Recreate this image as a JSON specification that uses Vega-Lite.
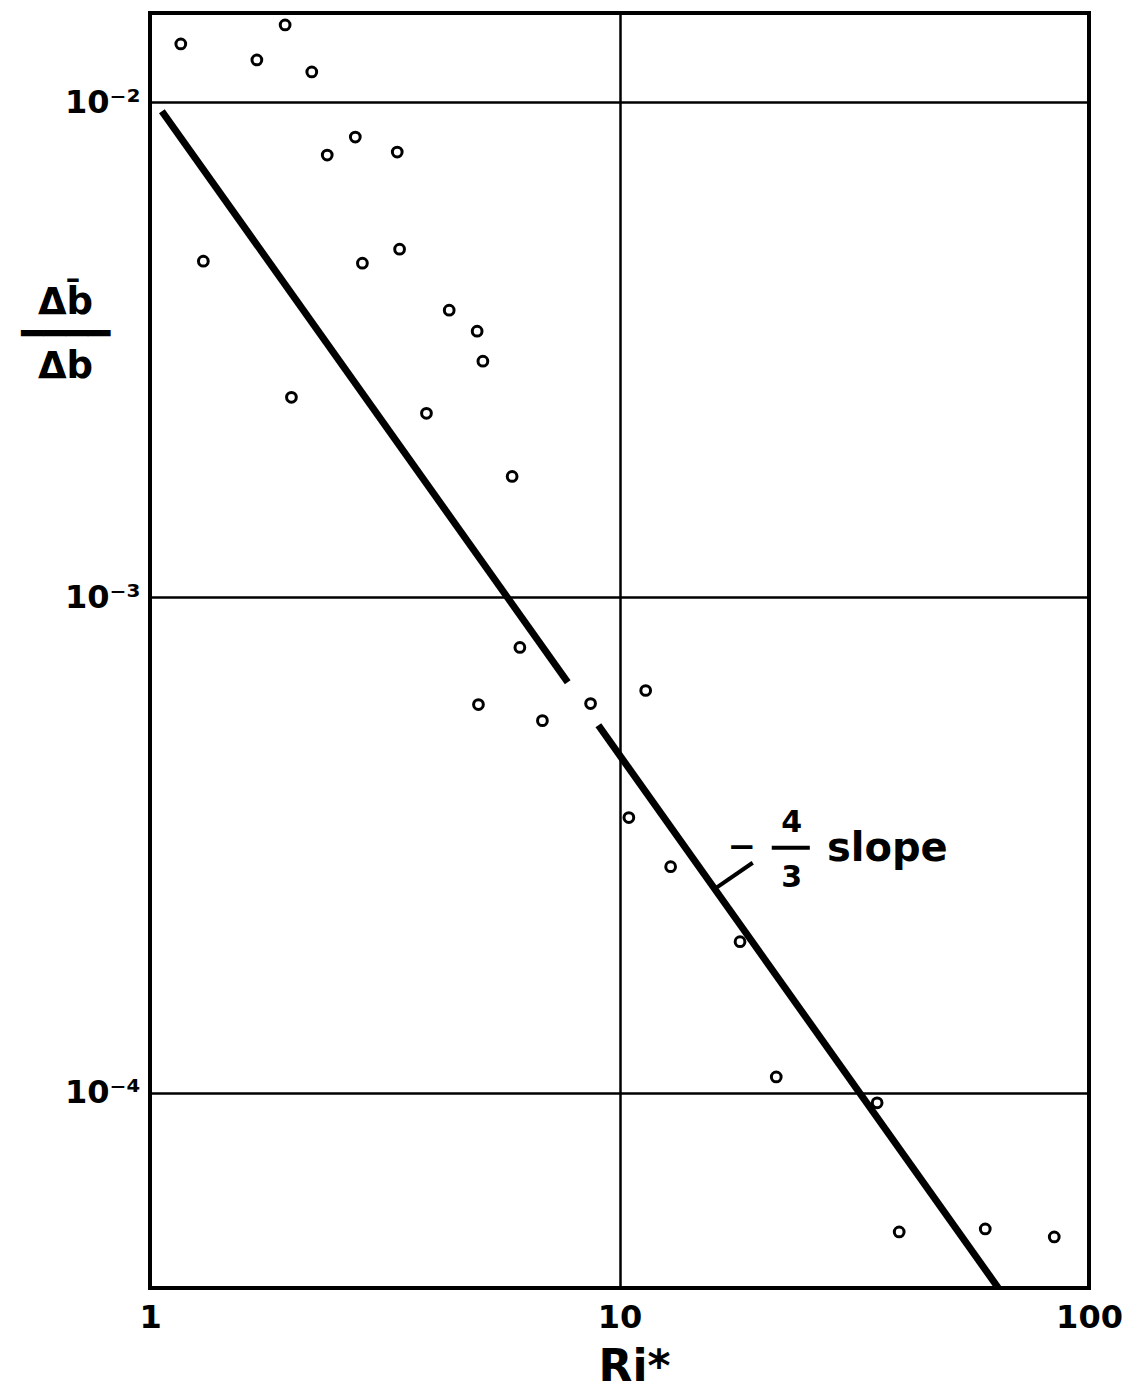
{
  "$schema": "https://vega.github.io/schema/vega-lite/v6.json",
  "width": 939,
  "height": 1275,
  "autosize": {"type": "none"},
  "padding": {"left": 150, "top": 13, "right": 55, "bottom": 105},
  "background": "white",
  "config": {
    "font": "DejaVu Sans",
    "view": {"stroke": "black", "strokeWidth": 4}
  },
  "datasets": {
    "obs": [
      {"ri": 1.163, "ratio": 0.01310},
      {"ri": 1.689, "ratio": 0.01216},
      {"ri": 1.940, "ratio": 0.01431},
      {"ri": 2.211, "ratio": 0.01150},
      {"ri": 1.299, "ratio": 0.004774},
      {"ri": 2.385, "ratio": 0.007815},
      {"ri": 2.737, "ratio": 0.00850},
      {"ri": 3.362, "ratio": 0.007925},
      {"ri": 2.834, "ratio": 0.004729},
      {"ri": 3.401, "ratio": 0.005047},
      {"ri": 2.001, "ratio": 0.002535},
      {"ri": 4.338, "ratio": 0.00380},
      {"ri": 4.975, "ratio": 0.003447},
      {"ri": 5.117, "ratio": 0.002998},
      {"ri": 3.880, "ratio": 0.002353},
      {"ri": 5.906, "ratio": 0.001755},
      {"ri": 6.135, "ratio": 0.0007925},
      {"ri": 5.007, "ratio": 0.0006078},
      {"ri": 6.852, "ratio": 0.0005641},
      {"ri": 8.677, "ratio": 0.0006107},
      {"ri": 11.37, "ratio": 0.0006489},
      {"ri": 10.47, "ratio": 0.0003594},
      {"ri": 12.85, "ratio": 0.0002861},
      {"ri": 18.06, "ratio": 0.0002019},
      {"ri": 21.57, "ratio": 0.0001077},
      {"ri": 35.38, "ratio": 0.00009546},
      {"ri": 39.42, "ratio": 0.00005238},
      {"ri": 60.12, "ratio": 0.00005312},
      {"ri": 84.33, "ratio": 0.00005117}
    ],
    "fit": [
      {"segment": "a", "ri": 1.06, "ratio": 0.009585},
      {"segment": "a", "ri": 7.757, "ratio": 0.0006744},
      {"segment": "b", "ri": 9.016, "ratio": 0.000552},
      {"segment": "b", "ri": 64.1, "ratio": 0.00004037}
    ]
  },
  "layer": [
    {
      "data": {"name": "obs"},
      "mark": {"type": "point", "shape": "circle", "filled": false, "stroke": "black", "strokeWidth": 3, "size": 95, "opacity": 1},
      "encoding": {
        "x": {
          "field": "ri",
          "type": "quantitative",
          "scale": {"type": "log", "domain": [1, 100], "nice": false},
          "axis": {
            "values": [1, 10, 100],
            "labelExpr": "datum.value < 5 ? '1' : datum.value < 50 ? '10' : '100'",
            "labelFontSize": 32,
            "labelFontWeight": "bold",
            "labelColor": "black",
            "labelPadding": 14,
            "labelFlush": false,
            "labelOverlap": false,
            "labelBound": false,
            "ticks": false,
            "domain": false,
            "grid": true,
            "gridColor": "black",
            "gridWidth": 2.5,
            "gridOpacity": 1,
            "title": "Ri*",
            "titleFontSize": 44,
            "titleFontWeight": "bold",
            "titleColor": "black",
            "titleAlign": "center",
            "titleBaseline": "alphabetic",
            "titleX": 484,
            "titleY": 92
          }
        },
        "y": {
          "field": "ratio",
          "type": "quantitative",
          "scale": {"type": "log", "domain": [0.00004037, 0.015128], "nice": false},
          "axis": {
            "values": [0.0001, 0.001, 0.01],
            "labelExpr": "datum.value < 0.0005 ? '10⁻⁴' : datum.value < 0.005 ? '10⁻³' : '10⁻²'",
            "labelFontSize": 32,
            "labelFontWeight": "bold",
            "labelColor": "black",
            "labelPadding": 10,
            "labelBaseline": "middle",
            "labelOverlap": false,
            "labelBound": false,
            "ticks": false,
            "domain": false,
            "grid": true,
            "gridColor": "black",
            "gridWidth": 2.5,
            "gridOpacity": 1,
            "title": ["Δb̄", "━━━━", "Δb"],
            "titleAngle": 0,
            "titleFontSize": 37,
            "titleFontWeight": "bold",
            "titleColor": "black",
            "titleAlign": "center",
            "titleBaseline": "middle",
            "titleLineHeight": 32,
            "titleX": -85,
            "titleY": 289
          }
        }
      }
    },
    {
      "data": {"name": "fit"},
      "mark": {"type": "line", "stroke": "black", "strokeWidth": 7, "strokeCap": "butt", "clip": true},
      "encoding": {
        "x": {"field": "ri", "type": "quantitative"},
        "y": {"field": "ratio", "type": "quantitative"},
        "detail": {"field": "segment"}
      }
    },
    {
      "data": {"values": [
        {"ri": 15.95, "ratio": 0.000258, "ri2": 19.22, "ratio2": 0.0002914},
        {"ri": 21.10, "ratio": 0.0003125, "ri2": 25.43, "ratio2": 0.0003125}
      ]},
      "mark": {"type": "rule", "stroke": "black", "strokeWidth": 4},
      "encoding": {
        "x": {"field": "ri", "type": "quantitative"},
        "y": {"field": "ratio", "type": "quantitative"},
        "x2": {"field": "ri2"},
        "y2": {"field": "ratio2"}
      }
    },
    {
      "data": {"values": [{"ri": 18.21, "ratio": 0.0003125, "label": "−"}]},
      "mark": {"type": "text", "fontSize": 34, "fontWeight": "bold", "color": "black", "align": "center", "baseline": "middle"},
      "encoding": {
        "x": {"field": "ri", "type": "quantitative"},
        "y": {"field": "ratio", "type": "quantitative"},
        "text": {"field": "label"}
      }
    },
    {
      "data": {"values": [
        {"ri": 23.28, "ratio": 0.0003512, "label": "4"},
        {"ri": 23.28, "ratio": 0.0002718, "label": "3"}
      ]},
      "mark": {"type": "text", "fontSize": 30, "fontWeight": "bold", "color": "black", "align": "center", "baseline": "middle"},
      "encoding": {
        "x": {"field": "ri", "type": "quantitative"},
        "y": {"field": "ratio", "type": "quantitative"},
        "text": {"field": "label"}
      }
    },
    {
      "data": {"values": [{"ri": 27.65, "ratio": 0.000311, "label": "slope"}]},
      "mark": {"type": "text", "fontSize": 40, "fontWeight": "bold", "color": "black", "align": "left", "baseline": "middle"},
      "encoding": {
        "x": {"field": "ri", "type": "quantitative"},
        "y": {"field": "ratio", "type": "quantitative"},
        "text": {"field": "label"}
      }
    }
  ]
}
